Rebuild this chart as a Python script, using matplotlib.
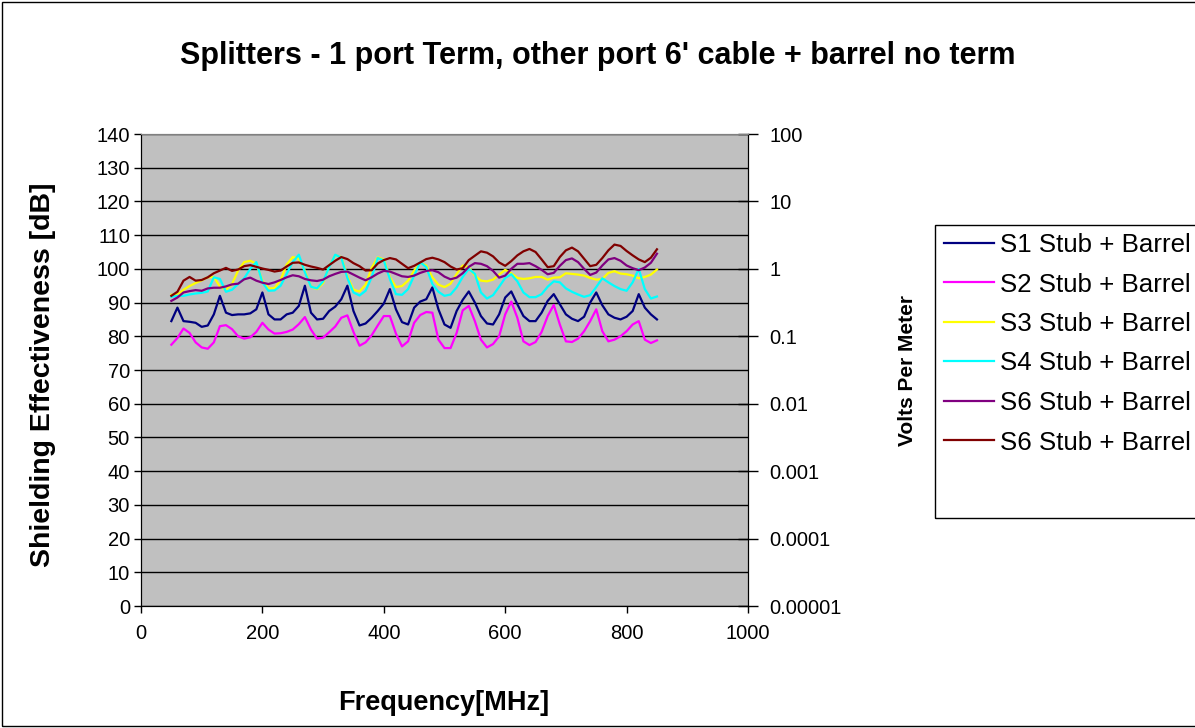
import numpy as np
import matplotlib
matplotlib.use("Agg")
import matplotlib.pyplot as plt
from matplotlib.patches import Rectangle

plt.rcParams['font.family'] = ['Liberation Sans', 'DejaVu Sans']

# frecuencia en MHz, paso de 10 MHz
freq = list(range(50, 851, 10))

s1 = [84.5, 88.5, 84.5, 84.3, 84.0, 82.8, 83.2, 86.5, 92.0, 87.0,
      86.3, 86.5, 86.5, 86.8, 88.0, 93.0, 86.5, 85.0, 85.0, 86.5,
      87.0, 89.0, 95.0, 87.0, 85.0, 85.2, 87.5, 88.8, 91.0, 95.0,
      87.5, 83.2, 83.8, 85.5, 87.5, 89.7, 94.0, 88.0, 84.2, 83.5,
      88.5, 90.3, 91.0, 94.5, 88.0, 83.5, 82.5, 87.5, 90.8, 93.3,
      90.0, 86.0, 83.8, 83.5, 86.5, 91.5, 93.3, 89.5, 86.0, 84.5,
      84.5, 87.0, 90.5, 92.5, 89.5, 86.5, 85.2, 84.5, 85.8, 90.0,
      93.0, 89.2, 86.5, 85.5, 85.0, 85.8, 87.5, 92.5, 88.5, 86.5,
      85.0]

s2 = [77.5, 79.5, 82.3, 81.0, 78.2, 76.7, 76.3, 78.2, 83.0, 83.3,
      82.1, 80.0, 79.3, 79.7, 81.3, 84.0, 82.0, 80.8, 80.9, 81.3,
      82.0, 83.6, 85.7, 82.0, 79.3, 79.6, 81.2, 82.9, 85.5, 86.2,
      81.3, 77.2, 78.2, 80.3, 83.2, 86.0, 86.0, 80.8, 77.0, 78.5,
      84.0, 86.3, 87.2, 87.0, 79.0, 76.5, 76.5, 81.0, 87.7, 89.0,
      84.5, 79.0, 76.7, 77.7, 80.0, 86.5, 90.3, 85.5, 78.5, 77.4,
      78.3, 81.3, 86.0, 89.3, 83.5, 78.5, 78.3, 79.3, 81.5, 84.5,
      88.0, 81.5, 78.5, 79.0, 80.0, 81.5, 83.5, 84.5, 79.0, 78.0,
      78.8]

s3 = [92.3, 92.3, 93.8, 94.9, 95.8, 96.6, 97.5, 97.6, 94.7, 93.8,
      95.5, 99.5, 102.0, 102.4, 101.5, 96.5, 94.2, 94.3, 96.7, 101.3,
      103.5, 103.0, 99.5, 94.8, 94.0, 95.8, 100.8, 104.0, 103.5, 97.8,
      93.8, 93.3, 95.3, 100.3, 103.4, 102.8, 97.5, 94.6, 94.9, 96.5,
      99.5, 101.8, 101.0, 97.5, 95.3, 94.6, 95.6, 98.5, 101.0, 100.5,
      98.0, 96.5, 96.3, 96.8, 98.3, 99.7, 98.7, 97.3, 97.0, 97.2,
      97.6, 97.6, 96.8, 97.4, 97.5, 98.7, 98.5, 98.3, 98.0, 97.3,
      96.8, 97.0, 98.8, 99.3, 98.6, 98.4, 98.0, 97.2, 97.6, 98.3,
      99.8]

s4 = [91.7, 92.0, 92.0, 92.4, 92.7, 92.9, 93.3, 97.5, 97.0, 93.2,
      93.8, 95.5, 97.2, 100.0, 102.0, 96.0, 93.5, 93.6, 95.0, 98.5,
      102.0, 104.2, 99.0, 94.7, 94.2, 96.3, 100.5, 104.2, 103.3, 97.3,
      93.0, 92.1, 93.5, 97.5, 103.2, 102.5, 97.0, 92.5, 92.3, 94.0,
      98.0, 102.0, 100.5, 95.5, 93.2, 92.0, 92.4, 94.5, 97.6, 100.0,
      98.5, 93.0, 91.2, 92.2, 94.7, 97.3, 98.4, 96.3, 93.0, 91.6,
      91.6, 92.5, 94.7, 96.3, 96.0, 94.2, 93.2, 92.4, 91.7, 92.2,
      94.6, 97.2, 96.0, 94.9, 94.0, 93.5, 96.0, 100.0, 94.0, 91.2,
      91.8]

s6a = [90.5, 91.5, 93.0, 93.4, 93.7, 93.5, 94.2, 94.4, 94.4, 94.8,
       95.4, 95.6, 96.9, 97.4, 96.5, 95.9, 95.5, 96.0, 96.7, 97.5,
       98.1, 97.8, 97.0, 96.6, 96.4, 96.8, 97.8, 98.5, 99.1, 99.2,
       98.3, 97.4, 96.6, 97.5, 98.6, 99.4, 99.2, 98.5, 97.8, 97.6,
       98.0, 98.8, 99.4, 99.6, 99.0, 97.7, 96.9, 97.4, 98.7, 100.6,
       101.7, 101.5, 100.8, 99.4, 97.4, 98.0, 100.0, 101.5, 101.5, 101.7,
       100.8, 99.7, 98.4, 98.8, 100.9, 102.6, 103.1, 102.0, 100.0, 98.2,
       98.9, 101.0, 102.8, 103.2, 102.4, 101.0, 100.2, 99.6, 100.4, 101.8,
       104.5]

s6b = [92.0, 93.2, 96.5, 97.6, 96.5, 96.7, 97.5, 98.7, 99.5, 100.3,
       99.4, 99.8, 100.8, 101.1, 100.6, 100.1, 99.7, 99.2, 99.5, 100.7,
       101.8, 101.9, 101.2, 100.7, 100.3, 99.8, 101.1, 102.4, 103.5, 102.9,
       101.7, 100.8, 99.5, 99.6, 101.6, 102.6, 103.2, 102.8, 101.5, 100.2,
       100.9, 101.9, 102.9, 103.3, 102.8, 102.0, 100.7, 99.8, 100.2, 102.6,
       103.9, 105.2, 104.8, 103.7, 101.9, 100.9, 102.3, 104.0, 105.2, 105.9,
       105.0, 102.8, 100.5, 100.8, 103.5, 105.5, 106.3, 105.2, 103.0, 100.8,
       101.2, 103.2, 105.5, 107.2, 106.8, 105.3, 104.0, 102.8, 102.0, 103.3,
       105.8]

series = [s1, s2, s3, s4, s6a, s6b]
names = ["S1 Stub + Barrel", "S2 Stub + Barrel", "S3 Stub + Barrel",
         "S4 Stub + Barrel", "S6 Stub + Barrel", "S6 Stub + Barrel"]
colores = ["#000080", "#FF00FF", "#FFFF00", "#00FFFF", "#800080", "#800000"]

# eje derecho (V/m)
vpm_ticks = [1e-5, 1e-4, 1e-3, 1e-2, 1e-1, 1, 10, 100]
vpm_labels = ["0.00001", "0.0001", "0.001", "0.01", "0.1", "1", "10", "100"]

fig = plt.figure(figsize=(11.95, 7.28), dpi=100)
ax = fig.add_axes([141/1195, 1-606/728, 607/1195, 472/728])
ax.set_facecolor("#C0C0C0")

for y, n, c in zip(series, names, colores):
    ax.plot(freq, y, color=c, lw=1.6, label=n)

ax.set_xlim(0, 1000)
ax.set_ylim(0, 140)
ax.set_xticks(range(0, 1001, 200))
ax.set_yticks(range(0, 141, 10))
ax.yaxis.grid(True, color="black", lw=1)
ax.set_axisbelow(True)
ax.tick_params(axis="both", labelsize=14.5, direction="out", length=5, width=1)
ax.tick_params(axis="y", pad=3)
ax.tick_params(axis="x", pad=8)
ax.spines["top"].set_color("#808080")

ax.set_xlabel("Frequency[MHz]", fontsize=19.5, fontweight="bold")
ax.set_ylabel("Shielding Effectiveness [dB]", fontsize=20.5, fontweight="bold")
ax.xaxis.set_label_coords(0.499, -0.178)
ax.yaxis.set_label_coords(-0.14, 0.49)

ax2 = ax.twinx()
ax2.set_yscale("log")
ax2.set_ylim(1e-5, 100)
ax2.set_yticks(vpm_ticks, labels=vpm_labels)
ax2.yaxis.set_minor_locator(matplotlib.ticker.NullLocator())
ax2.tick_params(axis="y", labelsize=14.5, direction="inout", length=15, width=1, pad=8)
ax2.set_ylabel("Volts Per Meter", fontsize=15, fontweight="bold")
ax2.yaxis.set_label_coords(1.247, 0.5)
ax2.spines["top"].set_color("#808080")

fig.text(0.5, 1-56/728, "Splitters - 1 port Term, other port 6' cable + barrel no term",
         ha="center", va="center", fontsize=22, fontweight="bold")

# marco de la leyenda y de la figura
fig.patches.append(Rectangle((935/1195, 1-518/728), 0.3, 293/728, transform=fig.transFigure,
                             fill=False, edgecolor="black", lw=1))
fig.patches.append(Rectangle((0.002, 0.003), 1.0, 0.994, transform=fig.transFigure,
                             fill=False, edgecolor="black", lw=1))

h, l = ax.get_legend_handles_labels()
fig.legend(h, l, loc="upper left", bbox_to_anchor=(944/1195, 1-233/728), frameon=False,
           fontsize=18.6, handlelength=1.95, handletextpad=0.2, labelspacing=0.6,
           borderaxespad=0, borderpad=0)

fig.savefig("out.png", dpi=100, facecolor="white")
